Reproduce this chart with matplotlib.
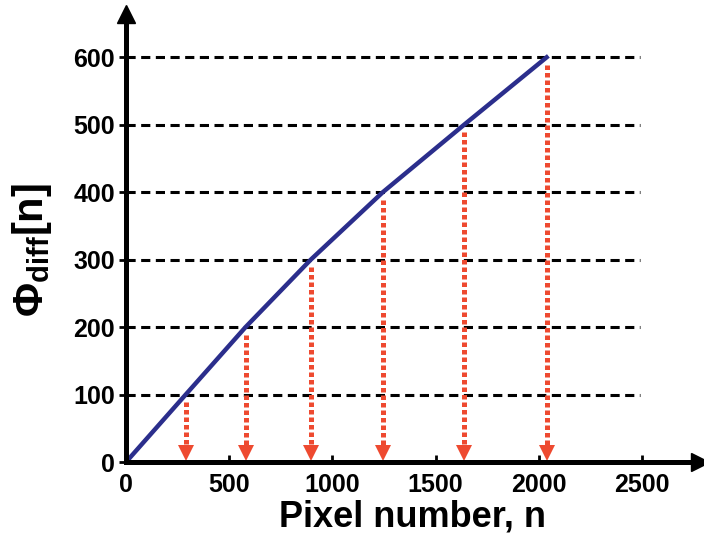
import numpy as np
import matplotlib
matplotlib.use("Agg")
import matplotlib.pyplot as plt

plt.rcParams['font.family'] = ['Liberation Sans', 'DejaVu Sans']
plt.rcParams['font.weight'] = 'bold'
plt.rcParams['mathtext.fontset'] = 'custom'
plt.rcParams['mathtext.rm'] = 'Liberation Sans:bold'
plt.rcParams['mathtext.it'] = 'Liberation Sans:bold'
plt.rcParams['mathtext.bf'] = 'Liberation Sans:bold'

# phase difference curve, sampled where it crosses each level
pixel_n = [0, 289, 579, 895, 1244, 1638, 2038]
phi_diff = [0, 100, 200, 300, 400, 500, 600]

levels = [100, 200, 300, 400, 500, 600]
level_pixels = [289, 579, 895, 1244, 1638, 2038]

x_ticks = [0, 500, 1000, 1500, 2000, 2500]
y_ticks = [0, 100, 200, 300, 400, 500, 600]

blue = '#2b2e8c'
red = '#ee4a30'

fig = plt.figure(figsize=(7.04, 5.43), dpi=100)
ax = fig.add_axes([0.179, 0.149, 0.815, 0.825])
ax.set_xlim(0, 2780)
ax.set_ylim(0, 664)

# horizontal guide lines at each level
for lv in levels:
    ax.plot([0, 2490], [lv, lv], color='black', lw=2.2,
            linestyle=(0, (3, 1.8)), zorder=1)

# dotted drop lines from the curve to the x axis
for xp, lv in zip(level_pixels, levels):
    ax.plot([xp, xp], [lv - 11, 20], color=red, lw=3.6,
            linestyle=(0, (0.9, 0.6)), solid_capstyle='butt', zorder=2)
    ax.plot(xp, 14, marker='v', markersize=12, color=red,
            markeredgewidth=0, zorder=3)

ax.plot(pixel_n, phi_diff, color=blue, lw=3.2, zorder=4)

for side in ['top', 'right']:
    ax.spines[side].set_visible(False)
for side in ['left', 'bottom']:
    ax.spines[side].set_linewidth(3.6)
    ax.spines[side].set_zorder(5)

# arrowheads at the ends of both axes
ax.plot(1, 0, marker='>', markersize=13, color='black',
        transform=ax.transAxes, clip_on=False, zorder=6)
ax.plot(0, 1, marker='^', markersize=13, color='black',
        transform=ax.transAxes, clip_on=False, zorder=6)

ax.set_xticks(x_ticks)
ax.set_yticks(y_ticks)
ax.tick_params(axis='x', direction='in', length=5, width=2, pad=8,
               labelsize=18, colors='black')
ax.tick_params(axis='y', direction='out', length=5, width=2, pad=3,
               labelsize=18, colors='black')
for lab in ax.get_xticklabels() + ax.get_yticklabels():
    lab.set_fontweight('bold')

ax.set_xlabel('Pixel number, n', fontsize=26, fontweight='bold',
              labelpad=2)
fig.text(0.045, 0.54, r'$\Phi_{diff}[n]$', fontsize=30,
         rotation=90, ha='center', va='center')

fig.savefig('out.png', dpi=100)
